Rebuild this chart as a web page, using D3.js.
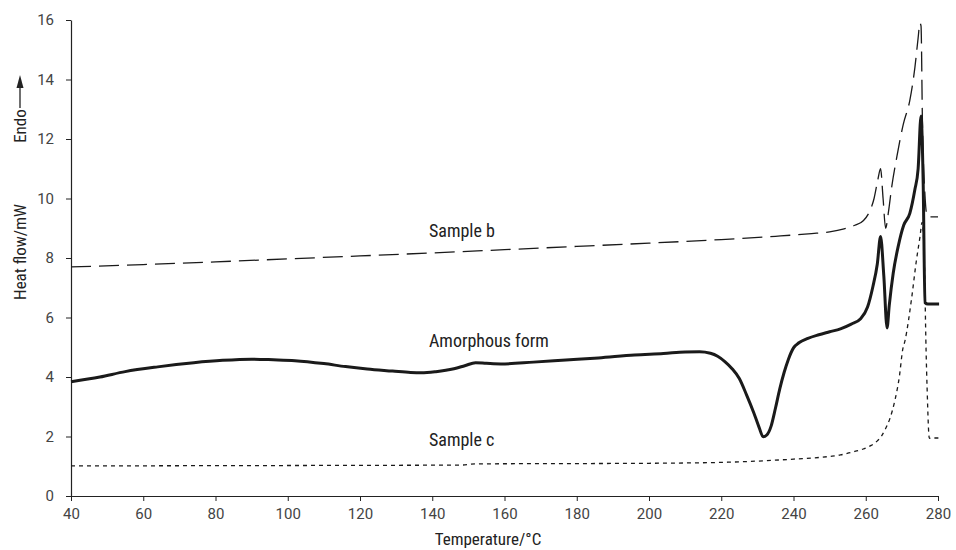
<!DOCTYPE html>
<html>
<head>
<meta charset="utf-8">
<script src="https://cdn.jsdelivr.net/npm/d3@7"></script>
<style>
  body { margin: 0; background: #fff; }
  svg { font-family: "Liberation Sans Narrow", "Arial Narrow", "Roboto Condensed", Roboto, sans-serif; }
</style>
</head>
<body>
<div id="chart"></div>
<script>
// Amorphous form (solid thick line)
const amorphousT = [40, 48, 55, 64, 74, 82, 90, 96, 102, 110, 116, 122, 129, 134, 137, 141, 146, 149, 152, 155, 159, 168, 177, 186, 196, 204, 210, 214, 217, 219, 221, 223, 225, 227, 229, 230.5, 231.6, 232.6, 233.8, 235, 236.2, 237.4, 238.6, 240, 241.5, 244, 247, 250, 253, 256, 258.5, 260.5, 262, 263.2, 264.1, 265, 265.9, 266.5, 267.6, 269, 270.5, 272.2, 273.6, 274.5, 275.3, 275.9, 276.4, 277.2, 280.3];
const amorphousHF = [3.84, 4.0, 4.18, 4.34, 4.48, 4.56, 4.6, 4.58, 4.55, 4.45, 4.35, 4.27, 4.2, 4.15, 4.14, 4.18, 4.28, 4.38, 4.48, 4.46, 4.44, 4.5, 4.57, 4.64, 4.74, 4.79, 4.84, 4.85, 4.8, 4.7, 4.52, 4.28, 3.95, 3.4, 2.8, 2.3, 1.99, 2.05, 2.35, 2.95, 3.6, 4.15, 4.6, 4.98, 5.15, 5.3, 5.42, 5.52, 5.62, 5.78, 5.95, 6.35, 7.05, 7.8, 8.72, 7.4, 5.65, 6.4, 7.49, 8.4, 9.1, 9.5, 10.3, 11.0, 12.77, 10.5, 6.5, 6.45, 6.45];

// Sample b (long dashes)
const sampleBT = [40, 60, 80, 100, 120, 140, 160, 180, 200, 220, 235, 245, 250, 254, 257, 259.3, 261, 262.3, 263.3, 264.1, 264.8, 265.5, 266.3, 267.2, 268.6, 270.4, 272.2, 273.6, 274.5, 275, 275.3, 275.7, 276.4, 276.9, 277.5, 280];
const sampleBHF = [7.7, 7.78, 7.87, 7.97, 8.07, 8.17, 8.28, 8.39, 8.5, 8.62, 8.73, 8.82, 8.88, 8.98, 9.1, 9.25, 9.55, 10.0, 10.6, 11.0, 10.0, 9.0, 9.56, 10.4, 11.4, 12.5, 13.3, 14.4, 15.4, 15.9, 15.8, 12.5, 10.1, 9.45, 9.38, 9.38];

// Sample c (short dashes)
const sampleCT = [40, 80, 120, 148, 152, 180, 200, 220, 240, 250, 253, 256, 259.3, 261.5, 263, 264.3, 265.3, 266.7, 268.1, 269.3, 270.2, 270.9, 272.7, 274, 275, 275.6, 276.2, 276.7, 277, 277.6, 278.2, 280.3];
const sampleCHF = [1.01, 1.02, 1.03, 1.04, 1.08, 1.09, 1.1, 1.13, 1.24, 1.33, 1.38, 1.47, 1.58, 1.7, 1.83, 2.0, 2.22, 2.61, 3.23, 4.01, 4.9, 5.24, 6.65, 7.9, 8.7, 9.2, 8.0, 4.9, 3.56, 1.94, 1.95, 1.95];

const xTicks = [40, 60, 80, 100, 120, 140, 160, 180, 200, 220, 240, 260, 280];
const yTicks = [0, 2, 4, 6, 8, 10, 12, 14, 16];

const width = 956, height = 550;
const margin = { top: 20, right: 18, bottom: 54, left: 71 };

const svg = d3.select("#chart").append("svg")
  .attr("width", width)
  .attr("height", height);

const x = d3.scaleLinear().domain([40, 280]).range([margin.left, width - margin.right]);
const y = d3.scaleLinear().domain([0, 16]).range([height - margin.bottom, margin.top]);

// Axes
const xAxis = svg.append("g")
  .attr("transform", `translate(0,${y(0)})`)
  .call(d3.axisBottom(x).tickValues(xTicks).tickSize(5).tickPadding(7).tickSizeOuter(0));
const yAxis = svg.append("g")
  .attr("transform", `translate(${x(40)},0)`)
  .call(d3.axisLeft(y).tickValues(yTicks).tickSize(5).tickPadding(12).tickSizeOuter(0));

[xAxis, yAxis].forEach(g => {
  g.select(".domain").attr("stroke", "#222").attr("stroke-width", 1.2);
  g.selectAll(".tick line").attr("stroke", "#222");
  g.selectAll(".tick text").attr("fill", "#444").style("font-size", "15px")
    .style("font-family", "\"Liberation Sans Narrow\", \"Arial Narrow\", Roboto, sans-serif");
});

// Curves
const series = [
  { t: sampleCT, hf: sampleCHF, width: 1.3, dash: "4,4" },
  { t: sampleBT, hf: sampleBHF, width: 1.3, dash: "20,8" },
  { t: amorphousT, hf: amorphousHF, width: 3, dash: null }
];

const line = d3.line()
  .x(d => x(d[0]))
  .y(d => y(d[1]))
  .curve(d3.curveMonotoneX);

series.forEach(s => {
  const pts = s.t.map((t, i) => [t, s.hf[i]]);
  svg.append("path")
    .datum(pts)
    .attr("fill", "none")
    .attr("stroke", "#1a1a1a")
    .attr("stroke-width", s.width)
    .attr("stroke-linejoin", "round")
    .attr("stroke-dasharray", s.dash)
    .attr("d", line);
});

// Curve labels
const labels = [
  { text: "Sample b", t: 139.1, hf: 8.7 },
  { text: "Amorphous form", t: 139.1, hf: 5.0 },
  { text: "Sample c", t: 139.1, hf: 1.68 }
];
svg.selectAll(".curve-label")
  .data(labels)
  .enter().append("text")
  .attr("class", "curve-label")
  .attr("x", d => x(d.t))
  .attr("y", d => y(d.hf))
  .attr("fill", "#222")
  .style("font-size", "18px")
  .text(d => d.text);

// Axis titles
svg.append("text")
  .attr("x", 488)
  .attr("y", 545)
  .attr("text-anchor", "middle")
  .attr("fill", "#222")
  .style("font-size", "17px")
  .text("Temperature/°C");

const yTitle = svg.append("g").attr("transform", "translate(26,0) rotate(-90)");
yTitle.append("text")
  .attr("x", -252)
  .attr("y", 0)
  .attr("text-anchor", "middle")
  .attr("fill", "#222")
  .style("font-size", "17px")
  .text("Heat flow/mW");
yTitle.append("text")
  .attr("x", -126)
  .attr("y", 0)
  .attr("text-anchor", "middle")
  .attr("fill", "#222")
  .style("font-size", "17px")
  .text("Endo");
// arrow pointing up (positive x in rotated frame)
yTitle.append("line")
  .attr("x1", -108).attr("x2", -86)
  .attr("y1", -6).attr("y2", -6)
  .attr("stroke", "#222").attr("stroke-width", 1.3);
yTitle.append("path")
  .attr("d", "M-88,-9.5 L-75,-6 L-88,-2.5 Z")
  .attr("fill", "#222");
</script>
</body>
</html>
